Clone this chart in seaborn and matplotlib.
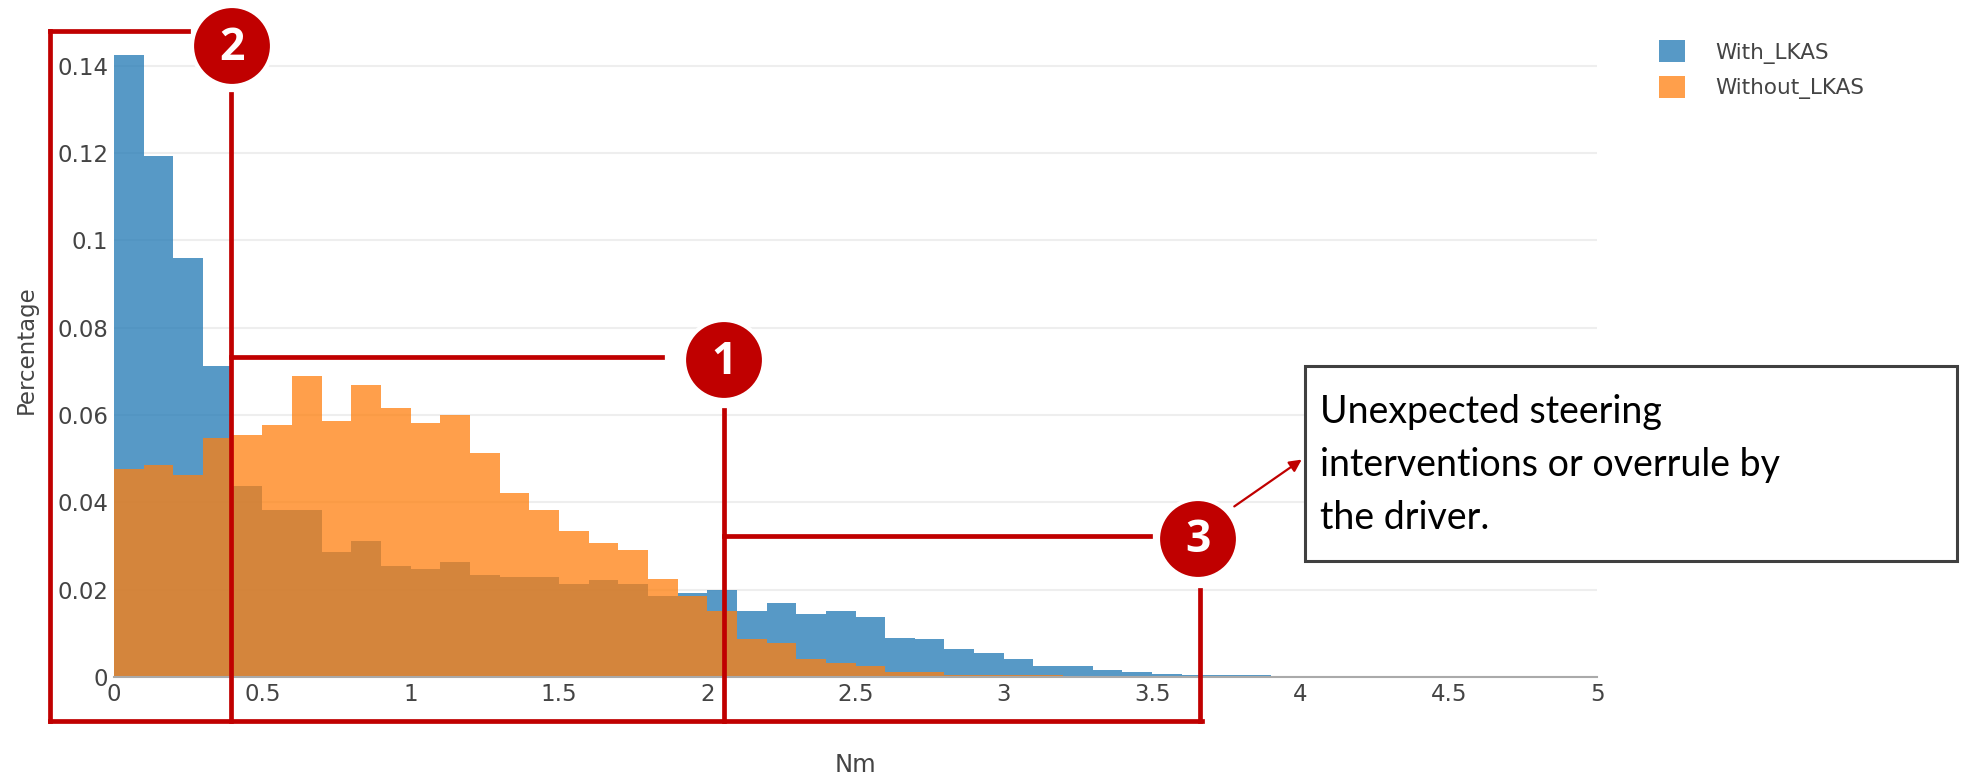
import numpy as np
import pandas as pd
import matplotlib
matplotlib.use("Agg")
import matplotlib.pyplot as plt
import seaborn as sns
from matplotlib.patches import Patch, Circle, Rectangle

# ---------------- data ----------------
bin_width = 0.1
bin_starts = np.round(np.arange(0, 3.9, bin_width), 1)  # 39 bins 0.0 .. 3.8

with_lkas = [0.1425, 0.1194, 0.0960, 0.0712, 0.0437, 0.0382, 0.0382, 0.0286, 0.0311, 0.0255,
             0.0247, 0.0264, 0.0233, 0.0229, 0.0229, 0.0212, 0.0221, 0.0212, 0.0186, 0.0192,
             0.0200, 0.0152, 0.0169, 0.0144, 0.0152, 0.0138, 0.0089, 0.0086, 0.0065, 0.0055,
             0.0042, 0.0025, 0.0025, 0.0017, 0.0012, 0.0007, 0.0004, 0.0004, 0.0004]
without_lkas = [0.0477, 0.0486, 0.0463, 0.0547, 0.0555, 0.0577, 0.0690, 0.0586, 0.0668, 0.0616,
                0.0581, 0.0599, 0.0513, 0.0421, 0.0382, 0.0334, 0.0308, 0.0290, 0.0225, 0.0186,
                0.0152, 0.0086, 0.0077, 0.0042, 0.0032, 0.0025, 0.0011, 0.0011, 0.0004, 0.0004,
                0.0004, 0.0004, 0.0, 0.0, 0.0, 0.0, 0.0, 0.0, 0.0]
series_names = ["With_LKAS", "Without_LKAS"]
x_ticks = [0, 0.5, 1, 1.5, 2, 2.5, 3, 3.5, 4, 4.5, 5]
x_tick_labels = ["0", "0.5", "1", "1.5", "2", "2.5", "3", "3.5", "4", "4.5", "5"]
y_ticks = [0, 0.02, 0.04, 0.06, 0.08, 0.1, 0.12, 0.14]
y_tick_labels = ["0", "0.02", "0.04", "0.06", "0.08", "0.1", "0.12", "0.14"]
note_text = "Unexpected steering\ninterventions or overrule by\nthe driver."

colors = ["#1f77b4", "#ff7f0e"]
RED = "#C00000"

# ---------------- figure ----------------
sns.set_theme(style="white")
plt.rcParams["font.family"] = ["DejaVu Sans"]

W, H = 1967, 780
fig = plt.figure(figsize=(W / 100, H / 100), dpi=100)
ax = fig.add_axes([114 / W, 1 - 677 / H, (1597 - 114) / W, (677 - 22) / H])

centers = bin_starts + bin_width / 2
df = pd.DataFrame({"Nm": np.concatenate([centers, centers]),
                   "value": np.concatenate([with_lkas, without_lkas]),
                   "series": [series_names[0]] * len(centers) + [series_names[1]] * len(centers)})

for name, col in zip(series_names, colors):
    sub = df[df["series"] == name]
    sns.histplot(data=sub, x="Nm", weights="value", binwidth=bin_width,
                 binrange=(0, float(bin_starts[-1]) + bin_width), stat="count",
                 color=col, alpha=0.75, linewidth=0, edgecolor="none", ax=ax)

ax.set_xlim(0, 5)
ax.set_ylim(0, 0.15)
ax.set_xticks(x_ticks)
ax.set_xticklabels(x_tick_labels)
ax.set_yticks(y_ticks)
ax.set_yticklabels(y_tick_labels)
ax.tick_params(axis="both", length=0, labelsize=16.5, colors="#444444", pad=4)
ax.yaxis.grid(True, color="#eeeeee", linewidth=1.5)
ax.xaxis.grid(False)
ax.set_axisbelow(True)
for s in ["top", "right", "left"]:
    ax.spines[s].set_visible(False)
ax.spines["bottom"].set_color("#aaaaaa")
ax.spines["bottom"].set_linewidth(1.5)
ax.set_xlabel("Nm", fontsize=17.5, color="#444444", labelpad=34)
ax.set_ylabel("Percentage", fontsize=16.5, color="#444444", labelpad=14)

handles = [Patch(facecolor=c, alpha=0.75, edgecolor="none") for c in colors]
ax.legend(handles, series_names, loc="upper left", bbox_to_anchor=(1640 / W, 1 - 21 / H),
          bbox_transform=fig.transFigure, frameon=False, fontsize=15.5, labelcolor="#444444",
          handlelength=1.2, handleheight=1.2, handletextpad=1.4, labelspacing=0.55)

# ---------------- annotation overlay (pixel coordinates) ----------------
ov = fig.add_axes([0, 0, 1, 1], zorder=10)
ov.set_xlim(0, W)
ov.set_ylim(H, 0)
ov.axis("off")
ov.patch.set_alpha(0)

lw = 3.4
segs = [
    ((50, 50), (31, 721)),      # box2 left
    ((50, 188), (31, 31)),      # box2 top
    ((231, 231), (94, 721)),    # box2 right / box1 left
    ((50, 1202), (721, 721)),   # bottom
    ((231, 662), (357, 357)),   # box1 top
    ((724, 724), (410, 721)),   # box1 right / box3 left
    ((724, 1150), (536, 536)),  # box3 top
    ((1200, 1200), (590, 721)), # box3 right
]
for xs, ys in segs:
    ov.plot(xs, ys, color=RED, lw=lw, solid_capstyle="projecting")

for (cx, cy), num in [((232, 46), "2"), ((724, 360), "1"), ((1198, 539), "3")]:
    ov.add_patch(Circle((cx, cy), 40, facecolor=RED, edgecolor="white", lw=3))
    ov.text(cx, cy + 2, num, ha="center", va="center", color="white",
            fontsize=32, fontweight="bold", family=["Open Sans", "DejaVu Sans"])

ov.annotate("", xy=(1304, 458), xytext=(1232, 508),
            arrowprops=dict(arrowstyle="-|>", color=RED, lw=1.6, mutation_scale=18))

ov.add_patch(Rectangle((1305, 366), 652, 195, facecolor="white", edgecolor="#404040", lw=2.2))
ov.text(1320, 465, note_text, ha="left", va="center", fontsize=27, color="black",
        family=["Lato", "DejaVu Sans"], linespacing=1.58)

fig.savefig("out.png", dpi=100)
